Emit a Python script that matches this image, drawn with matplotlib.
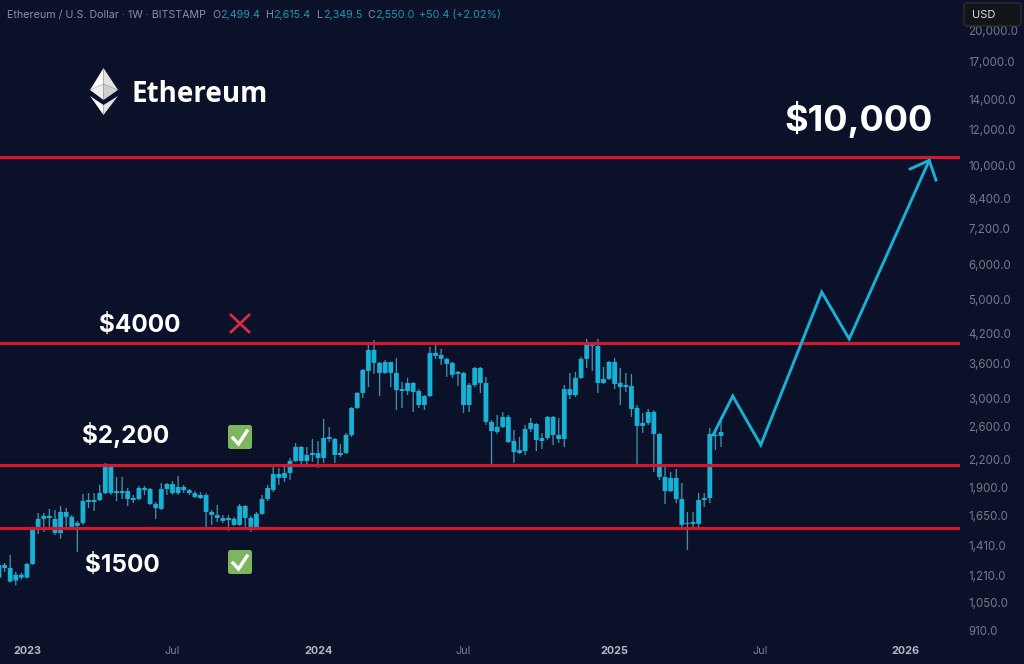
# coding: UTF-8
import numpy as np
from matplotlib import pyplot as plt
from matplotlib.patches import FancyBboxPatch, Polygon
from matplotlib.ticker import NullLocator

# weekly candles, prices
highs = [1283,1290,1344,1232,1226,1290,1553,1668,1668,1703,1694,1729,1711,1651,1601,1839,1848,1848,1927,2158,
         2125,2008,2008,1897,1830,1917,1917,1897,1765,1947,1947,1967,2018,1927,1887,1867,1858,1848,1694,1738,
         1651,1651,1635,1747,1738,1643,1677,1830,1927,2114,2103,2114,2214,2391,2355,2343,2441,2416,2707,2597,
         2454,2379,2518,2878,3109,3501,3960,4064,3629,3667,3629,3705,3273,3343,3273,3157,3061,3920,3960,3880,
         3705,3629,3465,3447,3256,3537,3537,3360,2692,2763,2805,2763,2557,2467,2624,2721,2651,2518,2749,2749,
         2721,3223,3430,3447,3724,4085,4002,4085,3537,3648,3705,3519,3430,3412,2908,2791,2849,2834,2518,2114,
         2060,2092,1947,1677,1677,1848,1848,2584,2531,2735]
body_top = [1277,1277,1257,1214,1214,1283,1544,1618,1643,1643,1618,1677,1677,1635,1585,1774,1783,1783,1848,2114,
            2114,1867,1867,1867,1801,1897,1897,1887,1747,1887,1937,1937,1907,1907,1877,1848,1830,1830,1677,1651,
            1626,1626,1618,1729,1729,1626,1660,1792,1897,2039,2039,2049,2180,2343,2343,2248,2271,2271,2454,2467,
            2441,2271,2493,2864,3093,3483,3860,3860,3611,3629,3629,3430,3157,3256,3256,3125,3045,3801,3801,3762,
            3686,3611,3447,3430,3223,3519,3519,3256,2665,2597,2735,2735,2416,2306,2570,2651,2637,2454,2735,2735,
            2493,3157,3157,3343,3686,3980,3980,3940,3325,3629,3629,3256,3223,3207,2864,2651,2805,2805,2505,2008,
            1998,1998,1792,1585,1593,1783,1801,2505,2493,2531]
body_bottom = [1196,1257,1172,1178,1196,1196,1283,1553,1618,1626,1505,1505,1635,1553,1561,1585,1765,1765,1783,1848,
               1848,1848,1848,1792,1783,1792,1877,1747,1711,1703,1887,1848,1848,1877,1848,1811,1801,1677,1651,1626,
               1601,1609,1569,1569,1626,1553,1544,1660,1792,1877,1998,1998,2049,2180,2180,2180,2248,2214,2214,2441,
               2248,2248,2271,2493,2864,3093,3465,3611,3430,3430,3430,3141,3125,3125,3109,2908,2908,3045,3743,3686,
               3592,3395,3412,2908,2908,3223,3256,2665,2544,2531,2597,2403,2282,2271,2294,2570,2428,2416,2454,2493,
               2441,2441,3061,3061,3343,3686,3940,3256,3256,3325,3240,3190,3190,2849,2611,2611,2651,2505,2008,1867,
               1867,1792,1569,1577,1577,1577,1783,1801,2480,2480]
lows = [1190,1232,1166,1149,1184,1190,1277,1497,1513,1553,1490,1460,1553,1544,1365,1569,1711,1685,1774,1839,
        1830,1774,1792,1729,1756,1783,1830,1738,1618,1694,1830,1830,1830,1848,1830,1801,1792,1544,1569,1593,
        1585,1520,1561,1561,1553,1513,1536,1651,1774,1858,1927,1957,1977,2169,2147,2114,2169,2103,2158,2403,
        2158,2225,2259,2467,2849,3014,3190,3412,3045,3412,3190,2834,2864,3061,2805,2864,2834,3030,3686,3574,
        3360,3343,3207,2791,2805,3190,3093,2624,2114,2505,2584,2391,2158,2259,2248,2531,2294,2319,2428,2367,
        2391,2343,2999,3030,3325,3519,3465,3093,3240,3307,3157,2908,3109,2735,2114,2518,2624,2060,1977,1747,
        1858,1756,1536,1379,1544,1536,1720,1756,2306,2343]

# projected path after the last candle
path_weeks = [127.6, 131.1, 136.1, 147.0, 151.9, 166.2]
path_prices = [2493, 3045, 2367, 5200, 4085, 10240]
head_weeks = [162.8, 166.2, 167.4]
head_prices = [9800, 10240, 9258]

levels = [10420, 4000, 2136, 1544]

price_ticks = [20000, 17000, 14000, 12000, 10000, 8400, 7200, 6000, 5000, 4200, 3600, 3000,
               2600, 2200, 1900, 1650, 1410, 1210, 1050, 910]
week_ticks = [5, 31, 57, 83, 110, 136, 162]
week_labels = ['2023', 'Jul', '2024', 'Jul', '2025', 'Jul', '2026']

BG = '#0a1128'
CYAN = '#16b1d4'
RED = '#d5182f'

fig = plt.figure(figsize=(10.24, 6.64), dpi=100, facecolor=BG)
ax = fig.add_axes([0, 28 / 664, 960 / 1024, 636 / 664], facecolor=BG)
ax.set_yscale('log')
ax.set_xlim(0.18, 171.7)
ax.set_ylim(885.6, 23378)

weeks = np.arange(len(highs))
top = np.array(body_top)
bottom = np.array(body_bottom)
wicks = ax.vlines(weeks, lows, highs, color='#3f93ad', lw=0.95, zorder=2)
wicks.set_snap(False)
bars = ax.bar(weeks, top - bottom, bottom=bottom, width=0.86, color=CYAN, lw=0, zorder=3)
for b in bars:
    b.set_snap(False)

for level in levels:
    ax.axhline(level, color=RED, lw=2.3, zorder=4)

ax.plot(path_weeks, path_prices, color=CYAN, lw=2.1, zorder=5, solid_joinstyle='miter')
ax.plot(head_weeks, head_prices, color=CYAN, lw=2.1, zorder=5, solid_joinstyle='miter')

for side in ax.spines.values():
    side.set_visible(False)
ax.yaxis.tick_right()
ax.set_yticks(price_ticks)
ax.set_yticklabels(['{:,.1f}'.format(p) for p in price_ticks], fontfamily='Inter', fontsize=8.3, color='#757a89')
ax.yaxis.set_minor_locator(NullLocator())
ax.set_xticks(week_ticks)
ax.set_xticklabels(week_labels, fontfamily='Inter', fontsize=7.8, color='#7a7f8e')
for lab, name in zip(ax.get_xticklabels(), week_labels):
    if name != 'Jul':
        lab.set_color('#b4b8c2')
        lab.set_fontweight('bold')
ax.tick_params(axis='both', length=0)
ax.tick_params(axis='y', pad=6)
ax.tick_params(axis='x', pad=7)

# overlay in picture pixels for the pasted-on logo, labels and badges
over = fig.add_axes([0, 0, 1, 1], facecolor='none')
over.set_xlim(0, 1024)
over.set_ylim(664, 0)
over.axis('off')

# header
GREY = '#8b909d'
TEAL = '#2296b0'
header = [(7, 'Ethereum / U.S. Dollar · 1W · BITSTAMP', GREY), (212, 'O', GREY), (220, '2,499.4', TEAL),
          (265, 'H', GREY), (273, '2,615.4', TEAL), (316, 'L', GREY), (323, '2,349.5', TEAL),
          (367, 'C', GREY), (375, '2,550.0', TEAL), (419, '+50.4 (+2.02%)', TEAL)]
for hx, s, c in header:
    over.text(hx, 15, s, color=c, fontsize=7.7, fontfamily='Inter', va='center', ha='left')

# USD box
over.add_patch(FancyBboxPatch((964, 3), 57, 23, boxstyle='round,pad=0,rounding_size=3',
                              fc='#131418', ec='#2b2e36', lw=1))
over.text(972, 14.5, 'USD', color='#dfe1e6', fontsize=8, fontfamily='Inter', va='center')

# logo
over.add_patch(Polygon([(103.5, 68), (90, 90), (103.5, 84)], fc='#fafafa', ec='none'))
over.add_patch(Polygon([(103.5, 68), (118, 90), (103.5, 84)], fc='#e2e2e2', ec='none'))
over.add_patch(Polygon([(90, 90), (103.5, 84), (103.5, 100)], fc='#eeeeee', ec='none'))
over.add_patch(Polygon([(118, 90), (103.5, 84), (103.5, 100)], fc='#cfcfcf', ec='none'))
over.add_patch(Polygon([(90, 96), (103.5, 105), (103.5, 115)], fc='#fafafa', ec='none'))
over.add_patch(Polygon([(118, 96), (103.5, 105), (103.5, 115)], fc='#e2e2e2', ec='none'))
over.text(131, 102, 'Ethereum', color='white', fontsize=20, fontweight='bold', fontfamily='Open Sans', va='baseline')

over.text(784, 119, '$10,000', color='white', fontsize=26, fontweight='bold', fontfamily='Inter', va='center')
for tx, ty, s in [(99, 325.5, '$4000'), (82, 435, '$2,200'), (85, 565, '$1500')]:
    over.text(tx, ty, s, color='white', fontsize=17.5, fontweight='bold', fontfamily='Inter', va='center')

# red cross
over.plot([231, 249], [315, 332], color='#d92c42', lw=2)
over.plot([249, 231], [315, 332], color='#d92c42', lw=2)

# green badges
for by in [425, 550]:
    over.add_patch(FancyBboxPatch((228, by), 24, 24, boxstyle='round,pad=0,rounding_size=2.5', fc='#7cb65f', ec='none'))
    over.plot([233, 238.5, 247], [by + 13, by + 19, by + 6], color='white', lw=2.4, solid_joinstyle='miter')

plt.savefig('out.png', dpi=100, facecolor=BG)
